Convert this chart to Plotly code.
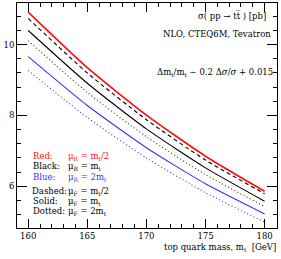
import plotly.graph_objects as go

mass = [160, 165, 170, 175, 180]
red_solid = [10.92, 9.35, 8.01, 6.85, 5.86]
black_dashed = [10.74, 9.20, 7.88, 6.74, 5.79]
black_solid = [10.40, 8.91, 7.62, 6.52, 5.58]
black_dotted = [10.11, 8.65, 7.40, 6.33, 5.43]
blue_solid = [9.66, 8.28, 7.09, 6.07, 5.22]
blue_dotted = [9.27, 7.94, 6.80, 5.82, 4.99]

x_ticks = [160, 165, 170, 175, 180]
y_ticks = [6, 8, 10]

RED = "#ff1010"
BLUE = "#3535ff"
FONT = "DejaVu Serif"
FS = 8.5

W, H = 281, 259
L, R, T, B = 17, 4, 3, 31
PW, PH = W - L - R, H - T - B

def px(x):
    return (x - L) / PW

def py(y):
    return (H - B - y) / PH

fig = go.Figure()
series = [
    (red_solid, RED, "solid", 1.7),
    (black_dashed, "black", "4px,3px", 1.1),
    (black_solid, "black", "solid", 1.1),
    (black_dotted, "#333333", "1px,2.5px", 1.1),
    (blue_solid, BLUE, "solid", 1.1),
    (blue_dotted, BLUE, "1px,2.5px", 1.1),
]
for ys, col, dash, w in series:
    fig.add_trace(go.Scatter(x=mass, y=ys, mode="lines",
                             line=dict(color=col, dash=dash, width=w, shape="spline", smoothing=0.6),
                             showlegend=False, hoverinfo="skip"))

annots = []
def ann(text, x, y, xanchor="left", color="black", size=FS):
    annots.append(dict(text=text, x=px(x), y=py(y), xref="paper", yref="paper",
                       xanchor=xanchor, yanchor="middle", showarrow=False,
                       font=dict(family=FONT, size=size, color=color)))

ann("σ( pp → tt\u0305 ) [pb]", 268, 15, xanchor="right")
ann("NLO, CTEQ6M, Tevatron", 273, 34, xanchor="right")
ann("Δm<sub>t</sub>/m<sub>t</sub> ∼ 0.2 Δ<i>σ</i>/<i>σ</i> + 0.015", 275, 72, xanchor="right")

ann("Red:", 31, 156, color=RED)
ann("μ<sub>R</sub> = m<sub>t</sub>/2", 66, 156, color=RED)
ann("Black:", 31, 166)
ann("μ<sub>R</sub> = m<sub>t</sub>", 66, 166)
ann("Blue:", 31, 177, color=BLUE)
ann("μ<sub>R</sub> = 2m<sub>t</sub>", 66, 177, color=BLUE)
ann("Dashed:", 30, 191)
ann("μ<sub>F</sub> = m<sub>t</sub>/2", 66, 191)
ann("Solid:", 31, 201)
ann("μ<sub>F</sub> = m<sub>t</sub>", 66, 201)
ann("Dotted:", 31, 211)
ann("μ<sub>F</sub> = 2m<sub>t</sub>", 66, 211)

ann("top quark mass, m<sub>t</sub>  [GeV]", 278, 248, xanchor="right")

axis_common = dict(showgrid=False, zeroline=False, showline=True, linecolor="black",
                   linewidth=1, mirror="allticks", ticks="inside", tickcolor="black",
                   tickfont=dict(family=FONT, size=FS, color="black"))

fig.update_layout(
    width=W, height=H,
    margin=dict(l=L, r=R, t=T, b=B, pad=0),
    paper_bgcolor="white", plot_bgcolor="white",
    xaxis=dict(range=[159.05, 181.05], tickvals=x_ticks, ticklen=9, tickwidth=1,
               minor=dict(dtick=1, tick0=160, ticklen=4, ticks="inside", tickcolor="black"),
               **axis_common),
    yaxis=dict(range=[4.822, 11.176], tickvals=y_ticks, ticklen=10, tickwidth=1,
               minor=dict(dtick=0.4, tick0=0, ticklen=4, ticks="inside", tickcolor="black"),
               **axis_common),
    annotations=annots,
)

fig.write_html("out.html", config={"displayModeBar": False},
               post_script="document.body.style.margin='0';")
